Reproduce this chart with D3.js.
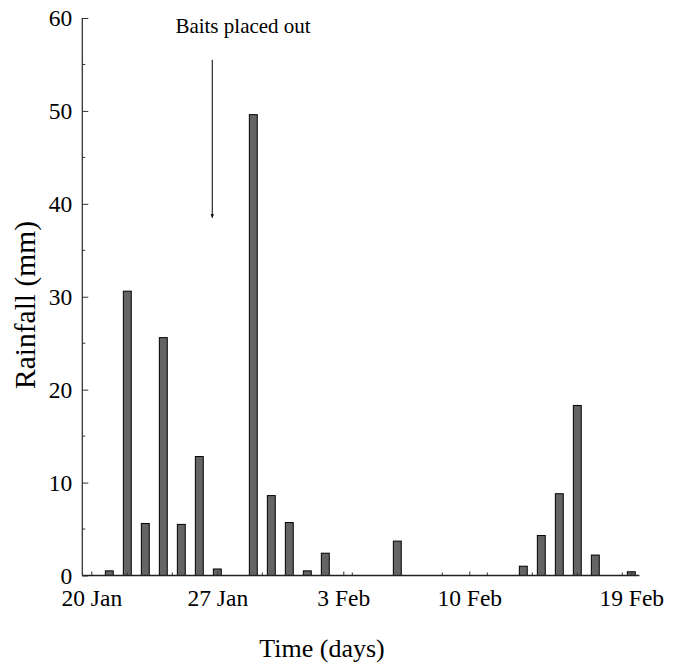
<!DOCTYPE html>
<html>
<head>
<meta charset="utf-8">
<script src="https://cdn.jsdelivr.net/npm/d3@7"></script>
<style>
  body { margin: 0; background: #fff; }
  svg text { font-family: "Liberation Serif", "Times New Roman", serif; fill: #000; }
</style>
</head>
<body>
<svg width="677" height="666"></svg>
<script>
// days after 20 Jan (bars sit on 21 Jan .. 19 Feb)
var dates = ["21 Jan","22 Jan","23 Jan","24 Jan","25 Jan","26 Jan","27 Jan","28 Jan","29 Jan","30 Jan",
             "31 Jan","1 Feb","2 Feb","3 Feb","4 Feb","5 Feb","6 Feb","7 Feb","8 Feb","9 Feb",
             "10 Feb","11 Feb","12 Feb","13 Feb","14 Feb","15 Feb","16 Feb","17 Feb","18 Feb","19 Feb"];
var rainfall = [0.5, 30.6, 5.6, 25.6, 5.5, 12.8, 0.7, 0, 49.6, 8.6,
                5.7, 0.5, 2.4, 0, 0, 0, 3.7, 0, 0, 0,
                0, 0, 0, 1.0, 4.3, 8.8, 18.3, 2.2, 0, 0.4];

var xTickDays = [0, 7, 14, 21, 30];
var xTickLabels = ["20 Jan", "27 Jan", "3 Feb", "10 Feb", "19 Feb"];
var xMinorDays = [2, 4.5, 9.5, 14.5, 19.5, 22, 24.5, 27, 29.5];
var yTicks = [0, 10, 20, 30, 40, 50, 60];
var yMinor = [5, 15, 25, 35, 45, 55];

var svg = d3.select("svg");

var x = d3.scaleLinear().domain([0, 30]).range([91.3, 631.3]);
var y = d3.scaleLinear().domain([0, 60]).range([575.5, 18]);
var barW = x(0.44) - x(0);

var g = svg.append("g");

// bars
g.selectAll(".bar")
    .data(rainfall)
    .enter().append("rect")
    .attr("class", "bar")
    .attr("x", (d, i) => x(i + 1) - barW / 2)
    .attr("y", d => y(d))
    .attr("width", barW)
    .attr("height", d => y(0) - y(d))
    .attr("fill", "#646464")
    .attr("stroke", "#000")
    .attr("stroke-width", 1);

// y axis
var yAxis = g.append("g")
    .attr("transform", "translate(" + x(-0.5) + ",0)")
    .call(d3.axisLeft(y).tickValues(yTicks).tickSize(-6).tickSizeOuter(0).tickPadding(10));
yAxis.select(".domain").remove();
yAxis.selectAll("text").style("font-size", "23.5px");
yAxis.selectAll("line").attr("stroke", "#333");

g.selectAll(".yminor")
    .data(yMinor)
    .enter().append("line")
    .attr("x1", x(-0.5)).attr("x2", x(-0.5) + 3)
    .attr("y1", d => y(d)).attr("y2", d => y(d))
    .attr("stroke", "#333");

// x axis
var xAxis = g.append("g")
    .attr("transform", "translate(0," + y(0) + ")")
    .call(d3.axisBottom(x).tickValues(xTickDays).tickSize(-4).tickSizeOuter(0)
        .tickFormat((d, i) => xTickLabels[i]));
xAxis.select(".domain").remove();
xAxis.selectAll("text").style("font-size", "23.5px").attr("dy", null).attr("y", 30);
xAxis.selectAll("line").attr("stroke", "#333");

g.selectAll(".xminor")
    .data(xMinorDays)
    .enter().append("line")
    .attr("x1", d => x(d)).attr("x2", d => x(d))
    .attr("y1", y(0)).attr("y2", y(0) - 3)
    .attr("stroke", "#333");

// axis lines
g.append("line")
    .attr("x1", x(-0.5)).attr("x2", x(-0.5))
    .attr("y1", y(60)).attr("y2", y(0))
    .attr("stroke", "#333").attr("stroke-width", 1.3);
g.append("line")
    .attr("x1", x(-0.5)).attr("x2", x(30.45))
    .attr("y1", y(0)).attr("y2", y(0))
    .attr("stroke", "#222").attr("stroke-width", 1.5);

// annotation
svg.append("defs").append("marker")
    .attr("id", "arrow")
    .attr("viewBox", "0 0 10 10")
    .attr("refX", 10).attr("refY", 5)
    .attr("markerWidth", 3.5).attr("markerHeight", 10)
    .attr("markerUnits", "userSpaceOnUse")
    .attr("orient", "auto")
    .append("path")
    .attr("d", "M0,0 L10,5 L0,10 z")
    .attr("fill", "#000");

g.append("line")
    .attr("x1", x(6.72)).attr("x2", x(6.72))
    .attr("y1", y(55.5)).attr("y2", y(38.5))
    .attr("stroke", "#000").attr("stroke-width", 1)
    .attr("marker-end", "url(#arrow)");

g.append("text")
    .attr("x", x(8.43)).attr("y", y(58.4))
    .attr("text-anchor", "middle")
    .style("font-size", "21px")
    .text("Baits placed out");

// axis titles
svg.append("text")
    .attr("transform", "translate(35,305) rotate(-90)")
    .attr("text-anchor", "middle")
    .style("font-size", "29.5px")
    .text("Rainfall (mm)");

svg.append("text")
    .attr("x", 322).attr("y", 657)
    .attr("text-anchor", "middle")
    .style("font-size", "26px")
    .text("Time (days)");
</script>
</body>
</html>
